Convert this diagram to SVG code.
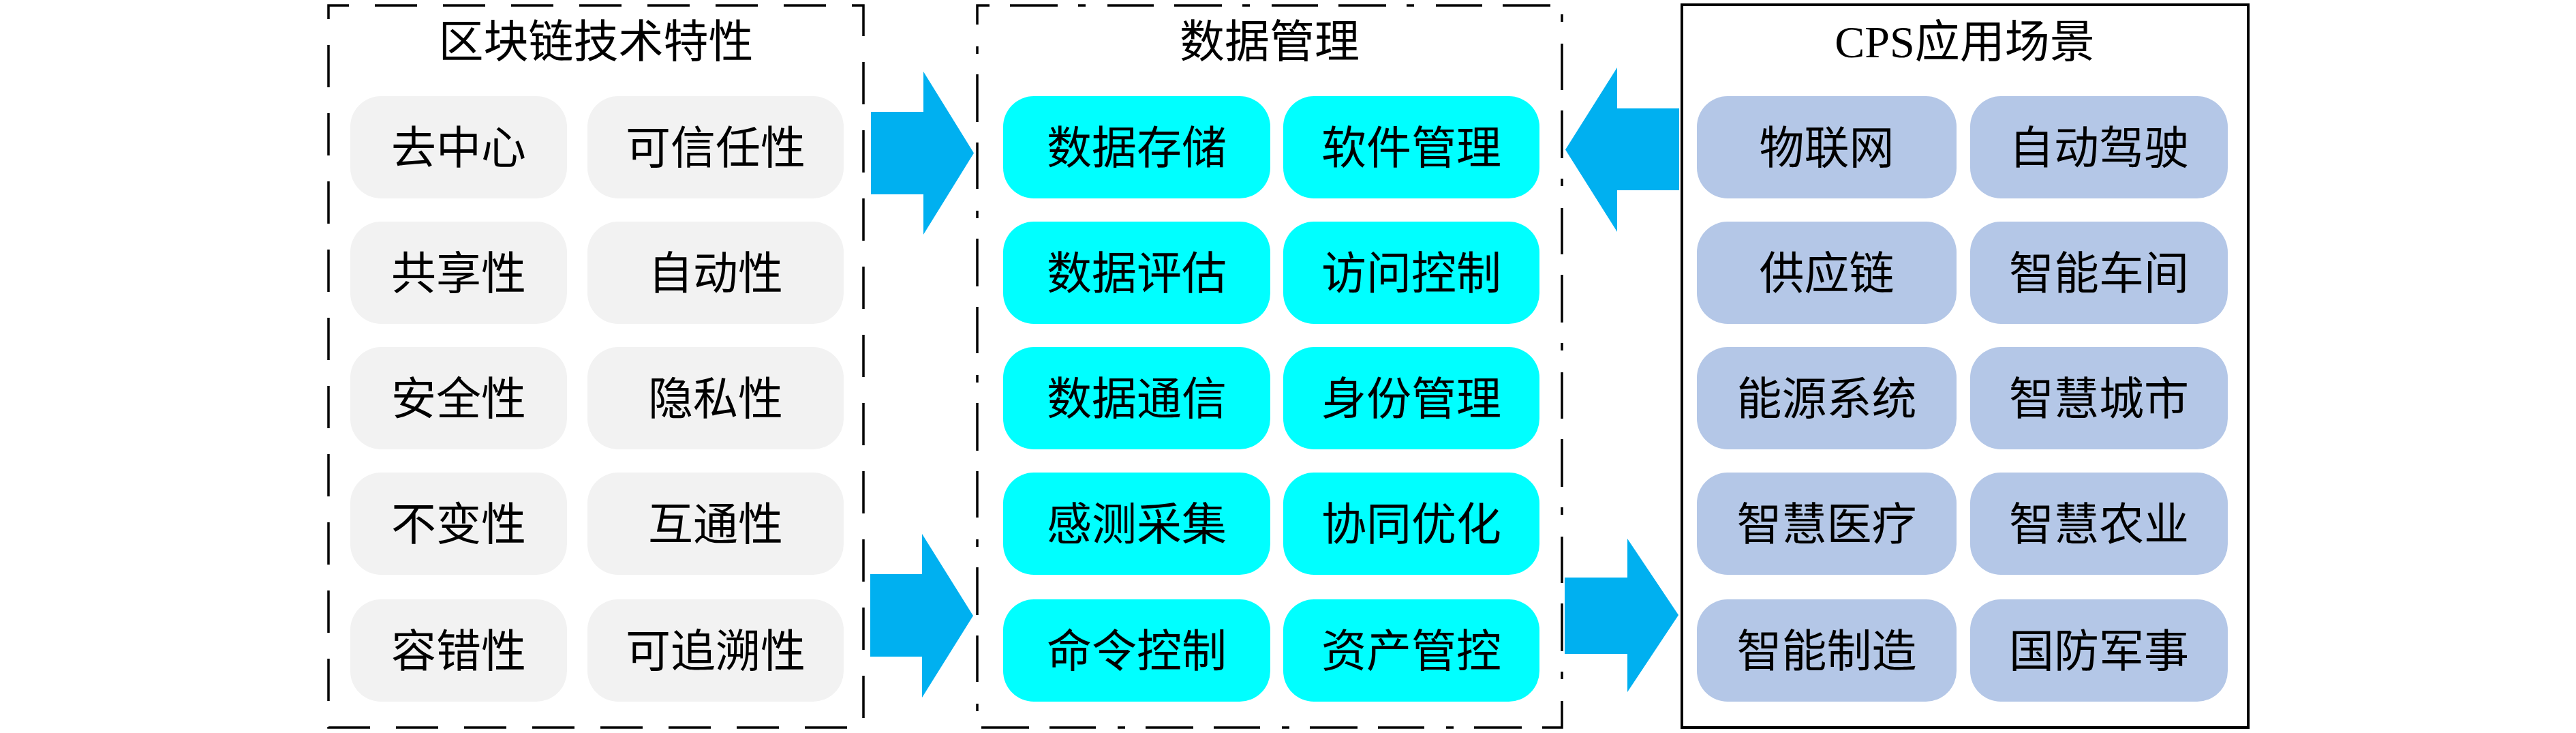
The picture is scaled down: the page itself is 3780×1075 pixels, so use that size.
<svg xmlns="http://www.w3.org/2000/svg" width="3780" height="1075" viewBox="0 0 3780 1075">
<style>
text{font-family:"Liberation Serif","Noto Sans CJK SC",serif;font-size:66px;fill:#000;text-anchor:middle}
.gray{fill:#F2F2F2}
.cyan{fill:#00FFFF}
.blue{fill:#B4C7E7}
.arrow{fill:#00B0F0}
.box1{fill:none;stroke:#000;stroke-width:3.5;stroke-dasharray:62 38;stroke-dashoffset:32}
.box2{fill:none;stroke:#000;stroke-width:3.5;stroke-dasharray:68 30 70 30 11 32;stroke-dashoffset:50}
.box3{fill:none;stroke:#000;stroke-width:4}
</style>
<rect width="3780" height="1075" fill="#fff"/>
<g id="group-blockchain">
<rect class="box1" x="482" y="8" width="785" height="1059"/>
<text x="874.5" y="84">区块链技术特性</text>
</g>
<g id="group-data">
<rect class="box2" x="1434" y="8" width="858" height="1059"/>
<text x="1863" y="84">数据管理</text>
</g>
<g id="group-cps">
<rect class="box3" x="2468" y="7" width="831" height="1060"/>
<text x="2883" y="84">CPS应用场景</text>
</g>
<g id="n-qzx"><rect class="gray" x="514" y="141" width="318" height="150" rx="45"/><text x="673" y="240">去中心</text></g>
<g id="n-kxrx"><rect class="gray" x="862" y="141" width="376" height="150" rx="45"/><text x="1050" y="240">可信任性</text></g>
<g id="n-gxx"><rect class="gray" x="514" y="325" width="318" height="150" rx="45"/><text x="673" y="424">共享性</text></g>
<g id="n-zdx"><rect class="gray" x="862" y="325" width="376" height="150" rx="45"/><text x="1050" y="424">自动性</text></g>
<g id="n-aqx"><rect class="gray" x="514" y="509" width="318" height="150" rx="45"/><text x="673" y="608">安全性</text></g>
<g id="n-ysx"><rect class="gray" x="862" y="509" width="376" height="150" rx="45"/><text x="1050" y="608">隐私性</text></g>
<g id="n-bbx"><rect class="gray" x="514" y="693" width="318" height="150" rx="45"/><text x="673" y="792">不变性</text></g>
<g id="n-htx"><rect class="gray" x="862" y="693" width="376" height="150" rx="45"/><text x="1050" y="792">互通性</text></g>
<g id="n-rcx"><rect class="gray" x="514" y="879" width="318" height="150" rx="45"/><text x="673" y="978">容错性</text></g>
<g id="n-kzsx"><rect class="gray" x="862" y="879" width="376" height="150" rx="45"/><text x="1050" y="978">可追溯性</text></g>

<g id="n-sjcc"><rect class="cyan" x="1472" y="141" width="392" height="150" rx="45"/><text x="1668" y="240">数据存储</text></g>
<g id="n-rjgl"><rect class="cyan" x="1883" y="141" width="376" height="150" rx="45"/><text x="2071" y="240">软件管理</text></g>
<g id="n-sjpg"><rect class="cyan" x="1472" y="325" width="392" height="150" rx="45"/><text x="1668" y="424">数据评估</text></g>
<g id="n-fwkz"><rect class="cyan" x="1883" y="325" width="376" height="150" rx="45"/><text x="2071" y="424">访问控制</text></g>
<g id="n-sjtx"><rect class="cyan" x="1472" y="509" width="392" height="150" rx="45"/><text x="1668" y="608">数据通信</text></g>
<g id="n-sfgl"><rect class="cyan" x="1883" y="509" width="376" height="150" rx="45"/><text x="2071" y="608">身份管理</text></g>
<g id="n-gccj"><rect class="cyan" x="1472" y="693" width="392" height="150" rx="45"/><text x="1668" y="792">感测采集</text></g>
<g id="n-xtyh"><rect class="cyan" x="1883" y="693" width="376" height="150" rx="45"/><text x="2071" y="792">协同优化</text></g>
<g id="n-mlkz"><rect class="cyan" x="1472" y="879" width="392" height="150" rx="45"/><text x="1668" y="978">命令控制</text></g>
<g id="n-zcgk"><rect class="cyan" x="1883" y="879" width="376" height="150" rx="45"/><text x="2071" y="978">资产管控</text></g>

<g id="n-wlw"><rect class="blue" x="2490" y="141" width="381" height="150" rx="45"/><text x="2680.5" y="240">物联网</text></g>
<g id="n-zdjs"><rect class="blue" x="2891" y="141" width="378" height="150" rx="45"/><text x="3080" y="240">自动驾驶</text></g>
<g id="n-gyl"><rect class="blue" x="2490" y="325" width="381" height="150" rx="45"/><text x="2680.5" y="424">供应链</text></g>
<g id="n-znsj"><rect class="blue" x="2891" y="325" width="378" height="150" rx="45"/><text x="3080" y="424">智能车间</text></g>
<g id="n-nyxt"><rect class="blue" x="2490" y="509" width="381" height="150" rx="45"/><text x="2680.5" y="608">能源系统</text></g>
<g id="n-zhcs"><rect class="blue" x="2891" y="509" width="378" height="150" rx="45"/><text x="3080" y="608">智慧城市</text></g>
<g id="n-zhyl"><rect class="blue" x="2490" y="693" width="381" height="150" rx="45"/><text x="2680.5" y="792">智慧医疗</text></g>
<g id="n-zhny"><rect class="blue" x="2891" y="693" width="378" height="150" rx="45"/><text x="3080" y="792">智慧农业</text></g>
<g id="n-znzz"><rect class="blue" x="2490" y="879" width="381" height="150" rx="45"/><text x="2680.5" y="978">智能制造</text></g>
<g id="n-gfjs"><rect class="blue" x="2891" y="879" width="378" height="150" rx="45"/><text x="3080" y="978">国防军事</text></g>

<g id="connectors">
<polygon class="arrow" points="1278,164 1355,164 1355,105 1429,224.5 1355,344 1355,285 1278,285"/>
<polygon class="arrow" points="1277,842 1353,842 1353,783 1428,903 1353,1023 1353,963 1277,963"/>
<polygon class="arrow" points="2464,159 2373,159 2373,99 2297,219.5 2373,340 2373,279 2464,279"/>
<polygon class="arrow" points="2296,847 2388,847 2388,790 2463,902 2388,1015 2388,959 2296,959"/>
</g>
</svg>
